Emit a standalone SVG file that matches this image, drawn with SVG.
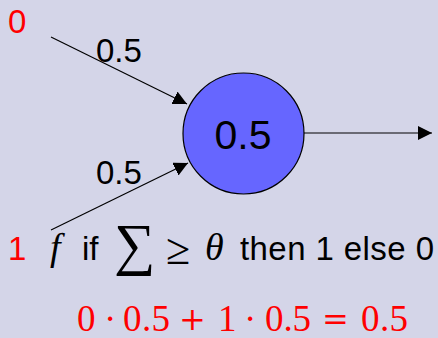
<svg xmlns="http://www.w3.org/2000/svg" width="438" height="338" viewBox="0 0 438 338">
<defs>
<marker id="arr" markerUnits="userSpaceOnUse" markerWidth="16" markerHeight="16" refX="14" refY="7" orient="auto">
<path d="M0,0 L14,7 L0,14 z" fill="#000"/>
</marker>
<style>
.sans{font-family:"Liberation Sans","DejaVu Sans",sans-serif;}
.serif{font-family:"Liberation Serif","DejaVu Serif",serif;}
.op{font-family:"DejaVu Serif","Liberation Serif",serif;font-size:32px;}
.red{fill:#ff0000;}
.edge{stroke:#000;stroke-width:1.2;fill:none;marker-end:url(#arr);}
</style>
</defs>
<rect x="0" y="0" width="438" height="338" fill="#d4d5e8"/>
<g id="connectors">
<line class="edge" x1="51" y1="37" x2="187" y2="104"/>
<line class="edge" x1="51" y1="230" x2="188" y2="163"/>
<line class="edge" x1="304" y1="133" x2="432" y2="133"/>
</g>
<g id="neuron">
<circle cx="243.5" cy="133.5" r="60.5" fill="#6666ff" stroke="#000" stroke-width="1.2"/>
<text class="sans" x="243" y="149" font-size="41" text-anchor="middle">0.5</text>
</g>
<g id="input0">
<text class="sans red" x="8" y="33" font-size="33">0</text>
</g>
<g id="input1">
<text class="sans red" x="8" y="260" font-size="33">1</text>
</g>
<g id="labels">
<text class="sans" x="96" y="62" font-size="33">0.5</text>
<text class="sans" x="96" y="184" font-size="33">0.5</text>
</g>
<g id="rule">
<text class="serif" x="50" y="260" font-size="38" font-style="italic">f</text>
<text class="sans" x="82" y="260" font-size="33">if</text>
<text class="serif" x="114" y="264" font-size="58">∑</text>
<text class="serif" x="166" y="264" font-size="44">≥</text>
<text class="serif" x="205" y="260" font-size="38" font-style="italic">θ</text>
<text class="sans" x="240" y="260" font-size="33" textLength="194" lengthAdjust="spacing">then 1 else 0</text>
</g>
<g id="calc" class="serif red" font-size="37">
<text x="77" y="331">0</text>
<text x="104" y="331">·</text>
<text x="123" y="331" textLength="47">0.5</text>
<text class="op" x="179" y="330">+</text>
<text x="218" y="331">1</text>
<text x="244" y="331">·</text>
<text x="265" y="331" textLength="46">0.5</text>
<text class="op" x="322" y="330">=</text>
<text x="361" y="331" textLength="47">0.5</text>
</g>
</svg>
